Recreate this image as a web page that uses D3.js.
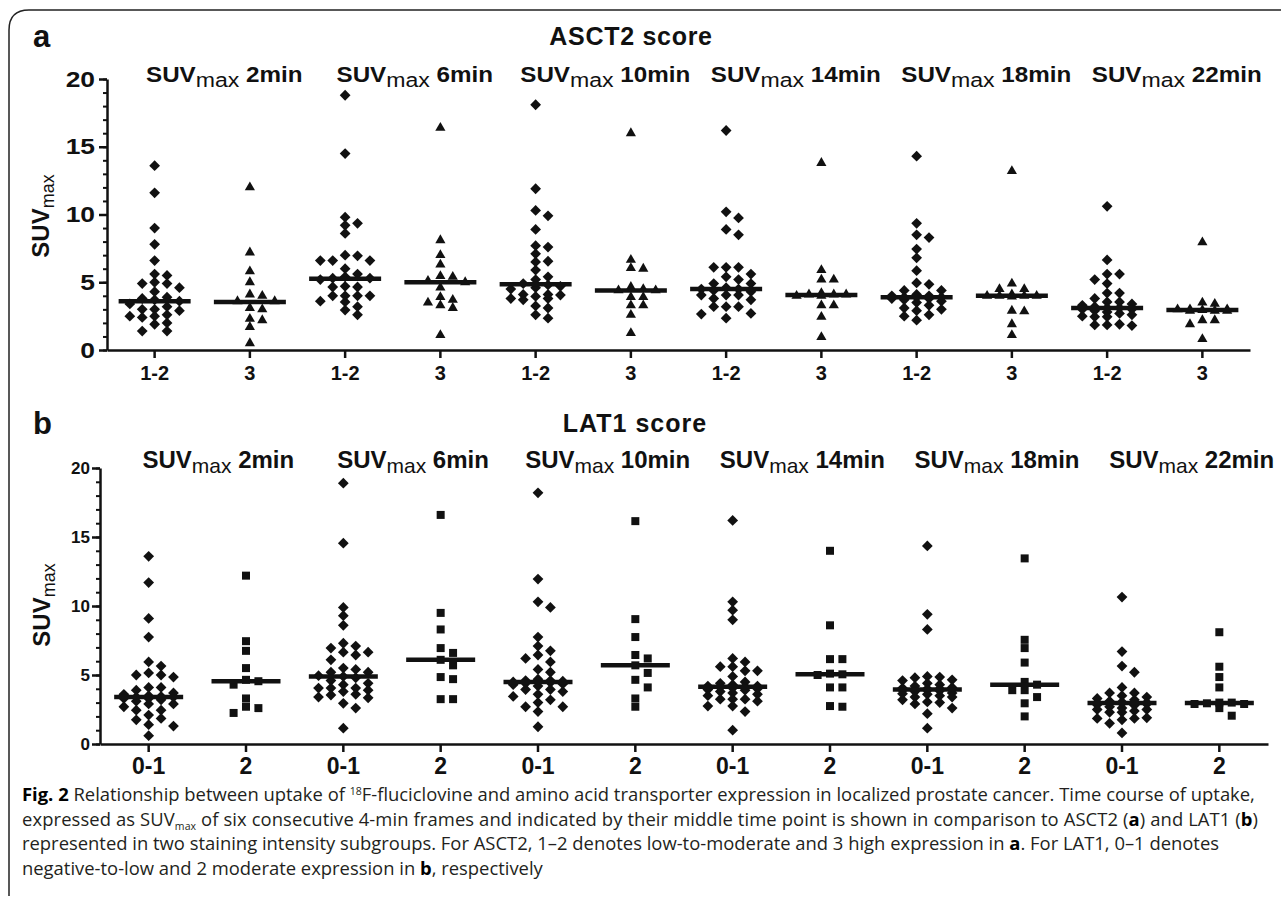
<!DOCTYPE html>
<html>
<head>
<meta charset="utf-8">
<script src="https://cdn.jsdelivr.net/npm/d3@7"></script>
<style>
body { margin: 0; background: #fff; }
svg text { font-family: "Liberation Sans", Arial, sans-serif; }
</style>
</head>
<body>
<div id="chart"></div>
<script>
// time points (middle of each 4-min frame)
const timePoints = ["2min", "6min", "10min", "14min", "18min", "22min"];
const asct2Groups = ["1-2", "3"];
const lat1Groups = ["0-1", "2"];
const yTicks = [0, 5, 10, 15, 20];

// ASCT2 score 1-2, one list per time point
const asct2Low = [
	[13.6, 11.6, 9.0, 7.8, 6.6, 5.6, 5.5, 5.0, 4.9, 4.9, 4.6, 4.3, 3.9, 3.8, 3.7, 3.6, 3.4, 3.2, 3.0, 3.0, 2.9, 2.6, 2.5, 2.5, 2.4, 2.0, 1.9, 1.4, 1.4],
	[18.8, 14.5, 9.8, 9.35, 9.2, 8.6, 7.0, 6.95, 6.6, 6.6, 6.6, 6.0, 5.6, 5.4, 5.3, 5.3, 5.2, 4.7, 4.65, 4.65, 4.0, 4.0, 4.0, 4.0, 3.6, 3.55, 3.2, 2.95, 2.6],
	[18.1, 11.9, 10.3, 9.9, 8.9, 7.7, 7.6, 7.1, 6.55, 6.5, 5.9, 5.4, 5.2, 4.9, 4.8, 4.7, 4.6, 4.5, 4.1, 4.1, 4.05, 3.95, 3.8, 3.8, 3.7, 3.25, 3.1, 2.6, 2.35],
	[16.2, 10.2, 9.75, 8.9, 8.5, 6.1, 6.1, 6.1, 5.6, 5.4, 5.2, 4.9, 4.9, 4.6, 4.5, 4.5, 4.4, 4.3, 4.05, 4.05, 4.05, 3.8, 3.7, 3.2, 3.2, 3.2, 2.7, 2.65, 2.35],
	[14.3, 9.35, 8.5, 8.3, 7.45, 6.8, 5.85, 4.95, 4.85, 4.4, 4.4, 4.1, 4.0, 4.0, 3.9, 3.9, 3.9, 3.8, 3.8, 3.7, 3.6, 3.5, 3.3, 3.1, 3.0, 2.9, 2.6, 2.5, 2.2],
	[10.6, 6.65, 5.6, 5.6, 5.2, 4.9, 4.2, 4.2, 3.8, 3.55, 3.55, 3.4, 3.3, 3.2, 3.1, 3.1, 3.0, 3.0, 2.9, 2.8, 2.7, 2.6, 2.5, 2.45, 2.45, 1.9, 1.85, 1.85, 1.8]
];
// ASCT2 score 3
const asct2High = [
	[12.0, 7.2, 5.8, 5.0, 4.1, 4.0, 3.6, 3.6, 3.1, 3.0, 2.3, 2.2, 1.7, 0.5],
	[16.4, 8.1, 7.0, 6.3, 5.45, 5.4, 5.1, 5.0, 4.6, 3.9, 3.7, 3.5, 3.3, 3.1, 1.1],
	[16.0, 6.65, 6.05, 6.0, 4.65, 4.5, 4.4, 4.4, 3.9, 3.9, 3.3, 3.3, 2.6, 1.25],
	[13.8, 5.9, 5.2, 5.2, 4.2, 4.1, 4.1, 4.1, 4.0, 4.0, 3.3, 3.3, 2.45, 0.95],
	[13.2, 4.9, 4.5, 4.5, 4.1, 4.0, 4.0, 4.0, 4.0, 3.95, 2.9, 2.85, 1.9, 1.1],
	[7.95, 3.5, 3.4, 3.0, 3.0, 3.0, 2.95, 2.9, 2.9, 2.9, 2.2, 2.2, 1.9, 0.8]
];
// LAT1 score 0-1
const lat1Low = [
	[13.6, 11.7, 9.1, 7.75, 5.95, 5.65, 5.15, 5.0, 5.0, 4.85, 4.1, 4.1, 3.9, 3.7, 3.6, 3.5, 3.45, 3.4, 3.4, 3.3, 3.3, 3.2, 3.1, 2.9, 2.9, 2.7, 2.45, 2.45, 2.1, 1.85, 1.75, 1.4, 1.3, 0.6],
	[18.9, 14.55, 9.9, 9.3, 8.6, 7.3, 7.1, 6.95, 6.65, 6.65, 6.45, 6.1, 5.5, 5.4, 5.2, 5.2, 4.95, 4.9, 4.8, 4.6, 4.4, 4.3, 4.05, 4.05, 4.05, 3.9, 3.8, 3.6, 3.55, 3.4, 3.35, 2.95, 2.6, 1.15],
	[18.2, 11.95, 10.3, 9.9, 7.75, 7.1, 6.75, 6.45, 6.2, 5.95, 5.4, 5.2, 4.7, 4.6, 4.6, 4.55, 4.5, 4.5, 4.45, 4.4, 4.35, 4.3, 4.2, 3.95, 3.95, 3.8, 3.6, 3.45, 3.2, 3.0, 2.7, 2.7, 2.35, 1.25],
	[16.2, 10.3, 9.7, 9.0, 6.2, 5.95, 5.6, 5.6, 5.3, 5.3, 4.9, 4.5, 4.4, 4.3, 4.2, 4.2, 4.15, 4.1, 4.05, 4.0, 3.95, 3.9, 3.8, 3.7, 3.6, 3.5, 3.25, 3.25, 3.25, 3.1, 2.75, 2.75, 2.35, 1.0],
	[14.35, 9.4, 8.3, 4.9, 4.85, 4.8, 4.65, 4.6, 4.4, 4.3, 4.2, 4.1, 4.05, 4.0, 4.0, 3.95, 3.95, 3.9, 3.9, 3.85, 3.8, 3.7, 3.65, 3.6, 3.5, 3.4, 3.4, 3.2, 3.05, 3.0, 2.9, 2.6, 2.2, 1.15],
	[10.65, 6.7, 5.65, 5.2, 4.1, 3.7, 3.7, 3.5, 3.4, 3.3, 3.2, 3.1, 3.05, 3.0, 3.0, 3.0, 3.0, 2.95, 2.9, 2.85, 2.8, 2.7, 2.6, 2.5, 2.5, 2.4, 2.3, 2.3, 1.9, 1.85, 1.85, 1.75, 1.5, 0.8]
];
// LAT1 score 2
const lat1High = [
	[12.2, 7.45, 6.75, 5.5, 4.65, 4.55, 4.3, 3.3, 2.7, 2.6, 2.25],
	[16.6, 9.5, 8.3, 6.95, 6.6, 6.1, 5.7, 4.85, 4.7, 3.25, 3.25],
	[16.15, 9.05, 7.75, 6.45, 6.2, 5.7, 5.15, 4.65, 4.1, 3.3, 2.7],
	[14.0, 8.6, 6.15, 6.15, 5.1, 5.05, 5.0, 4.1, 4.1, 2.75, 2.7],
	[13.45, 7.55, 6.95, 5.9, 4.5, 4.3, 3.9, 3.9, 3.4, 2.95, 2.0],
	[8.1, 5.6, 4.85, 4.1, 3.0, 3.0, 2.95, 2.9, 2.9, 2.6, 2.05]
];

// medians (horizontal bars)
const asct2LowMedian = [3.6, 5.25, 4.85, 4.5, 3.9, 3.1];
const asct2HighMedian = [3.55, 5.0, 4.4, 4.05, 4.0, 2.95];
const lat1LowMedian = [3.4, 4.9, 4.5, 4.15, 3.95, 2.97];
const lat1HighMedian = [4.55, 6.1, 5.7, 5.05, 4.3, 2.97];

const W = 1281, H = 900;
const svg = d3.select('#chart').append('svg').attr('width', W).attr('height', H);

// frame round panel + caption
svg.append('path')
	.attr('d', 'M9,896V30Q9,10,29,10H1281')
	.attr('fill', 'none').attr('stroke', '#222').attr('stroke-width', 1.5);

function txt(g, x, y, sx) {
	return g.append('text').attr('transform', `translate(${x},${y}) scale(${sx},1)`);
}

// prism-like swarm: fixed column step, at most 2*maxK+1 columns, overlap when crowded
function swarm(values, y, step, rowH, maxK) {
	const pts = values.map(v => ({ v, py: y(v) })).sort((a, b) => a.py - b.py);
	const placed = [];
	pts.forEach(p => {
		let best = 0, bestScore = Infinity;
		for (let k = 0; k <= maxK * 2; k++) {
			const off = k === 0 ? 0 : (k % 2 ? 1 : -1) * Math.ceil(k / 2) * step;
			let score = 0;
			placed.forEach(q => {
				const dy = Math.abs(q.py - p.py), dx = Math.abs(q.dx - off);
				if (dy < rowH && dx < step * 0.9) score += (rowH - dy) + (step - dx);
			});
			if (score < bestScore) { bestScore = score; best = off; }
			if (score === 0) break;
		}
		p.dx = best;
		placed.push(p);
	});
	return placed;
}

function drawPanel(p) {
	const g = svg.append('g');
	const keys = [];
	timePoints.forEach(t => p.groups.forEach(gr => keys.push(t + '|' + gr)));

	const x = d3.scaleBand().domain(keys).range(p.xRange);
	const y = d3.scaleLinear().domain([0, 20]).range(p.yRange);

	// minor ticks
	g.append('g')
		.attr('transform', `translate(${p.xRange[0]},0)`)
		.call(d3.axisLeft(y).tickValues(d3.range(0, 21)).tickSize(4).tickFormat(''))
		.call(s => s.select('.domain').remove())
		.call(s => s.selectAll('line').attr('stroke', '#111').attr('stroke-width', 2));

	const yAxis = g.append('g')
		.attr('transform', `translate(${p.xRange[0]},0)`)
		.call(d3.axisLeft(y).tickValues(yTicks).tickSize(8).tickPadding(2).tickSizeOuter(0));
	yAxis.selectAll('path,line').attr('stroke', '#111').attr('stroke-width', 2.5);
	yAxis.selectAll('text')
		.attr('fill', '#111').attr('font-size', p.yTickSize).attr('font-weight', 'bold')
		.attr('transform', `scale(${p.sx},1)`);

	const xAxis = g.append('g')
		.attr('transform', `translate(0,${y(0)})`)
		.call(d3.axisBottom(x).tickSize(8).tickPadding(p.xPad).tickSizeOuter(0).tickFormat(k => k.split('|')[1]));
	xAxis.selectAll('path,line').attr('stroke', '#111').attr('stroke-width', 2.5);
	xAxis.selectAll('text').attr('fill', '#111').attr('font-size', p.xTickSize).attr('font-weight', 'bold');

	// points
	p.series.forEach((ser, gi) => {
		const shape = p.shapes[gi];
		ser.forEach((vals, ti) => {
			const cx = x(timePoints[ti] + '|' + p.groups[gi]) + x.bandwidth() / 2;
			const pts = swarm(vals, y, 12.4, 8, 2);
			g.append('g').selectAll('path').data(pts).join('path')
				.attr('d', d3.symbol().type(shape.type).size(shape.size))
				.attr('transform', d => `translate(${cx + d.dx},${d.py})` + (shape.rot ? ' rotate(45)' : ''))
				.attr('fill', '#111');
			g.append('line')
				.attr('x1', cx - p.medW / 2).attr('x2', cx + p.medW / 2)
				.attr('y1', y(p.medians[gi][ti])).attr('y2', y(p.medians[gi][ti]))
				.attr('stroke', '#111').attr('stroke-width', 4.5);
		});
	});

	// column headers
	timePoints.forEach((t, i) => {
		const c = x(t + '|' + p.groups[0]) + x.bandwidth() + p.headShift;
		const tx = txt(g, c, p.headY, p.headSx).attr('text-anchor', 'middle').attr('fill', '#111');
		tx.append('tspan').attr('font-weight', 'bold').attr('font-size', p.headSize).text('SUV');
		tx.append('tspan').attr('font-size', p.subSize).attr('dy', 5).text('max');
		tx.append('tspan').attr('font-weight', 'bold').attr('font-size', p.headSize).attr('dy', -5).text(' ' + t);
	});

	// title and panel letter
	txt(g, p.titleX, p.titleY, 1).attr('text-anchor', 'middle').attr('font-weight', 'bold')
		.attr('font-size', 25).attr('letter-spacing', p.titleLs).attr('fill', '#111').text(p.title);
	txt(g, 33, p.titleY + 2, 1).attr('font-weight', 'bold').attr('font-size', 31).attr('fill', '#111').text(p.letter);

	// y title
	const yt = g.append('text')
		.attr('transform', `translate(${p.yTitle[0]},${p.yTitle[1]}) rotate(-90)`)
		.attr('text-anchor', 'middle').attr('fill', '#111');
	yt.append('tspan').attr('font-weight', 'bold').attr('font-size', 24).text('SUV');
	yt.append('tspan').attr('font-size', 18).attr('dy', 5).text('max');
}

drawPanel({
	groups: asct2Groups, series: [asct2Low, asct2High], medians: [asct2LowMedian, asct2HighMedian],
	shapes: [{ type: d3.symbolSquare, size: 58, rot: true }, { type: d3.symbolTriangle, size: 45 }],
	xRange: [107, 1250], yRange: [350, 79], sx: 1.2, yTickSize: 22, xTickSize: 20, xPad: 8,
	medW: 72, headY: 82, headSize: 22, subSize: 21, headShift: 22, headSx: 1.1,
	title: 'ASCT2 score', titleX: 631, titleY: 45, titleLs: 0.7, letter: 'a', yTitle: [49, 216]
});

drawPanel({
	groups: lat1Groups, series: [lat1Low, lat1High], medians: [lat1LowMedian, lat1HighMedian],
	shapes: [{ type: d3.symbolSquare, size: 58, rot: true }, { type: d3.symbolSquare, size: 64 }],
	xRange: [100, 1268], yRange: [744, 468], sx: 1, yTickSize: 17, xTickSize: 23, xPad: 6,
	medW: 69, headY: 468, headSize: 24, subSize: 21, headShift: 21, headSx: 1.0,
	title: 'LAT1 score', titleX: 635, titleY: 432, titleLs: 1, letter: 'b', yTitle: [50, 605]
});

// caption
const cap = svg.append('g').attr('font-size', 16).attr('fill', '#231f20');
const capLines = [
	[['b', 'Fig. 2'], ['', ' Relationship between uptake of '], ['sup', '18'], ['', 'F-fluciclovine and amino acid transporter expression in localized prostate cancer. Time course of uptake,']],
	[['', 'expressed as SUV'], ['sub', 'max'], ['', ' of six consecutive 4-min frames and indicated by their middle time point is shown in comparison to ASCT2 ('], ['b', 'a'], ['', ') and LAT1 ('], ['b', 'b'], ['', ')']],
	[['', 'represented in two staining intensity subgroups. For ASCT2, 1–2 denotes low-to-moderate and 3 high expression in '], ['b', 'a'], ['', '. For LAT1, 0–1 denotes']],
	[['', 'negative-to-low and 2 moderate expression in '], ['b', 'b'], ['', ', respectively']]
];
const capTexts = capLines.map((line, i) => {
	const t = cap.append('text').attr('x', 22).attr('y', 801 + i * 24.6)
		.style('font-family', '"Open Sans", "Noto Sans", sans-serif');
	line.forEach(([k, s], j) => {
		const sp = t.append('tspan').text(s);
		if (k === 'b') sp.attr('font-weight', 'bold').attr('fill', '#000');
		if (k === 'sup') sp.attr('font-size', 10.5).attr('dy', -6);
		if (k === 'sub') sp.attr('font-size', 10.5).attr('dy', 4);
		const prev = j > 0 ? line[j - 1][0] : '';
		if (prev === 'sup') sp.attr('dy', 6);
		if (prev === 'sub') sp.attr('dy', -4);
	});
	return t;
});
// fit the font so the first line runs to the right margin
const w0 = capTexts[0].node().getComputedTextLength();
cap.attr('font-size', 16 * 1236 / w0);
capTexts[1].attr('textLength', 1236).attr('lengthAdjust', 'spacing');
</script>
</body>
</html>
